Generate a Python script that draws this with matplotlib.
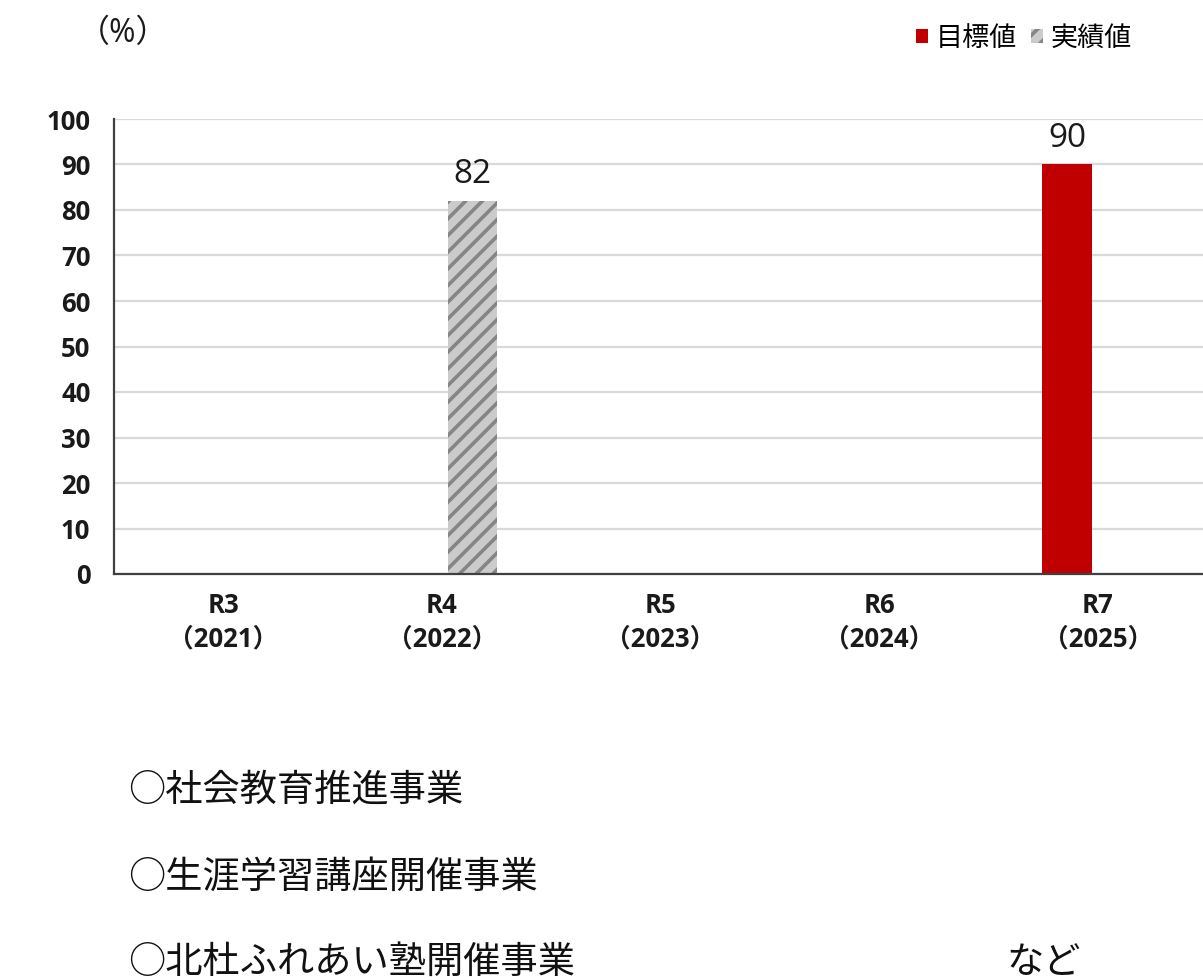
import matplotlib
matplotlib.use("Agg")
import matplotlib.pyplot as plt
import numpy as np
from matplotlib.patches import Patch

LAT = ['Open Sans', 'Noto Sans CJK JP', 'DejaVu Sans']
CJK = ['Noto Sans CJK JP', 'DejaVu Sans']
plt.rcParams['font.family'] = LAT
plt.rcParams['hatch.linewidth'] = 2.6
plt.rcParams['hatch.color'] = '#858585'

categories = ['R3\n（2021）', 'R4\n（2022）', 'R5\n（2023）', 'R6\n（2024）', 'R7\n（2025）']
target_values = [np.nan, np.nan, np.nan, np.nan, 90]
actual_values = [np.nan, 82, np.nan, np.nan, np.nan]
series_names = ['目標値', '実績値']
y_ticks = [0, 10, 20, 30, 40, 50, 60, 70, 80, 90, 100]
notes = ['○社会教育推進事業', '○生涯学習講座開催事業', '○北杜ふれあい塾開催事業']

W, H = 1203, 980
fig = plt.figure(figsize=(W / 100, H / 100), dpi=100)
ax = fig.add_axes([114 / W, (H - 574) / H, (1207 - 114) / W, (574 - 119) / H])

x = np.arange(len(categories))
bw = 0.228
off = 0.14
b1 = ax.bar(x - off, target_values, width=bw, color='#C00000', label=series_names[0], zorder=3)
b2 = ax.bar(x + off, actual_values, width=bw, color='#cbcbcb', hatch='//', edgecolor='#858585',
            linewidth=0, label=series_names[1], zorder=3)

for bars, vals in ((b1, target_values), (b2, actual_values)):
    labels = ['' if np.isnan(v) else f'{v:g}' for v in vals]
    ax.bar_label(bars, labels=labels, padding=7, fontsize=24, color='#1a1a1a')

ax.set_xlim(-0.5, len(categories) - 0.5)
ax.set_ylim(0, 100)
ax.set_yticks(y_ticks)
ax.set_yticklabels([str(t) for t in y_ticks], fontsize=18.5, fontweight='bold', color='#1a1a1a')
ax.set_xticks(x)
ax.set_xticklabels(categories, fontsize=18.5, fontweight='bold', color='#1a1a1a', linespacing=1.3)
ax.tick_params(axis='both', length=0)
ax.tick_params(axis='y', pad=17)
ax.tick_params(axis='x', pad=13)
ax.grid(axis='y', color='#d9d9d9', linewidth=1.6, zorder=0)
ax.set_axisbelow(True)
for s in ('top', 'right'):
    ax.spines[s].set_visible(False)
for s in ('left', 'bottom'):
    ax.spines[s].set_color('#404040')
    ax.spines[s].set_linewidth(1.6)
ax.spines['bottom'].set_zorder(4)

fig.text(123 / W, 1 - 33 / H, '（%）', fontsize=23, ha='center', va='center', color='#1a1a1a')

handles = [Patch(facecolor='#C00000', label=series_names[0]),
           Patch(facecolor='#cbcbcb', hatch='//', edgecolor='#858585', linewidth=0, label=series_names[1])]
fig.legend(handles=handles, loc='center right', bbox_to_anchor=(1146 / W, 1 - 38 / H), ncol=2,
           frameon=False, prop={'family': CJK, 'size': 19.5}, handlelength=0.45, handleheight=0.45,
           handletextpad=0.3, columnspacing=0.5, borderpad=0)

ys = [790, 877, 962]
for t, yy in zip(notes, ys):
    fig.text(128 / W, 1 - yy / H, t, fontsize=26.8, ha='left', va='center', color='#111111', family=CJK)
fig.text(1006 / W, 1 - 962 / H, 'など', fontsize=26.8, ha='left', va='center', color='#111111', family=CJK)

fig.savefig('out.png', dpi=100)
